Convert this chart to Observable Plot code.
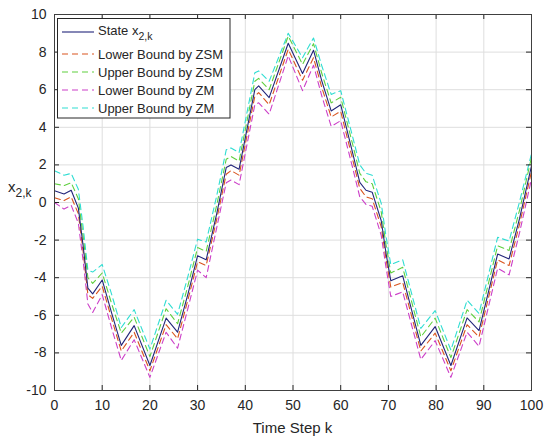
<!DOCTYPE html>
<html>
<head>
<meta charset="utf-8">
<script src="https://cdn.jsdelivr.net/npm/d3@7"></script>
<script src="https://cdn.jsdelivr.net/npm/@observablehq/plot@0.6"></script>
<style>
  html, body { margin: 0; padding: 0; background: white; }
  #chart { position: relative; width: 550px; height: 443px; }
</style>
</head>
<body>
<div id="chart"></div>
<script>
const steps = [0,2,3.5,5,6,7,8,10,12,14,16.7,20,23.4,25.8,28,30,31.8,34,36,37,38.7,42,42.8,45,49,52,54.3,56,58,60,62.5,64,65.3,66.6,68.5,69.5,70.5,73,76.8,79.8,83.1,86.5,89,92.9,95.3,97.5,100];
const stateX2 = [0.62,0.45,0.65,-0.3,-2.3,-4.55,-4.86,-4.12,-5.9,-7.6,-6.55,-8.67,-6.15,-6.9,-4.85,-2.83,-3.05,-0.6,1.86,2.0,1.77,6.0,6.2,5.58,8.47,6.86,8.1,6.5,4.87,5.2,2.64,1.07,0.65,0.55,-0.97,-2.7,-4.16,-3.9,-7.6,-6.6,-8.67,-6.14,-6.81,-2.74,-3.0,-0.85,1.95];
const lowerZSM = [0.25,0.1,0.3,-0.6,-2.6,-4.9,-5.1,-4.45,-6.2,-7.9,-6.9,-8.95,-6.5,-7.25,-5.15,-3.15,-3.35,-0.9,1.5,1.7,1.45,5.65,5.85,5.2,8.15,6.5,7.7,6.15,4.55,4.85,2.3,0.75,0.3,0.2,-1.3,-3.0,-4.5,-4.25,-7.9,-6.95,-8.95,-6.5,-7.15,-3.05,-3.35,-1.15,1.65];
const upperZSM = [1.0,0.9,1.05,0.2,-1.8,-4.0,-4.3,-3.75,-5.4,-6.95,-6.1,-8.2,-5.65,-6.45,-4.4,-2.4,-2.6,-0.15,2.3,2.45,2.2,6.45,6.6,6.0,8.85,7.35,8.45,6.9,5.3,5.6,3.1,1.55,1.1,1.0,-0.5,-2.25,-3.75,-3.45,-7.15,-6.15,-8.25,-5.7,-6.35,-2.3,-2.55,-0.4,2.4];
const lowerZM = [0.0,-0.35,-0.15,-1.1,-3.1,-5.4,-5.85,-4.9,-6.7,-8.4,-7.3,-9.3,-6.9,-7.75,-5.6,-3.6,-4.0,-1.35,1.05,1.2,0.95,5.2,5.3,4.7,7.8,5.95,7.3,5.7,4.05,4.35,1.85,0.3,-0.1,-0.2,-1.75,-3.45,-5.0,-4.75,-8.35,-7.35,-9.3,-6.9,-7.65,-3.5,-3.85,-1.6,1.25];
const upperZM = [1.69,1.45,1.55,0.7,-1.3,-3.6,-3.7,-3.3,-4.9,-6.65,-5.7,-7.8,-5.2,-5.95,-3.9,-1.95,-2.1,0.35,2.8,2.9,2.65,6.9,7.0,6.45,9.0,7.7,8.75,7.3,5.75,5.95,3.5,2.0,1.55,1.45,-0.05,-1.8,-3.3,-3.05,-6.7,-5.75,-7.85,-5.2,-5.9,-1.85,-2.05,0.05,2.6];

const xTicks = [0,10,20,30,40,50,60,70,80,90,100];
const yTicks = [-10,-8,-6,-4,-2,0,2,4,6,8,10];

const seriesNames = ["State", "Lower Bound by ZSM", "Upper Bound by ZSM", "Lower Bound by ZM", "Upper Bound by ZM"];
const seriesValues = [stateX2, lowerZSM, upperZSM, lowerZM, upperZM];
const seriesColors = ["#22257a", "#d9541e", "#5fcf3e", "#cc3fc8", "#2fddd2"];
const seriesDash = [null, "6,4", "6,4", "6,4", "6,4"];

const W = 550, H = 443;
const mL = 54, mR = 19, mT = 14, mB = 53;
const innerW = W - mL - mR, innerH = H - mT - mB;
const tickLen = 5;

const lineMarks = seriesValues.map((vals, i) => {
  const rows = steps.map((k, j) => ({k, v: vals[j]}));
  return Plot.line(rows, {x: "k", y: "v", stroke: seriesColors[i], strokeWidth: 1.1, strokeDasharray: seriesDash[i]});
}).reverse();

const fmt = d => String(d);

const chart = Plot.plot({
  width: W, height: H,
  marginLeft: mL, marginRight: mR, marginTop: mT, marginBottom: mB,
  x: {domain: [0, 100], ticks: xTicks},
  y: {domain: [-10, 10], ticks: yTicks},
  style: {fontFamily: "'Liberation Sans', Arial, sans-serif", fontSize: "14px", color: "#262626", background: "white"},
  marks: [
    Plot.gridX(xTicks, {stroke: "#dedede", strokeOpacity: 1}),
    Plot.gridY(yTicks, {stroke: "#dedede", strokeOpacity: 1}),
    ...lineMarks,
    Plot.tickX(xTicks, {x: d => d, stroke: "#262626", insetTop: innerH - tickLen}),
    Plot.tickX(xTicks, {x: d => d, stroke: "#262626", insetBottom: innerH - tickLen}),
    Plot.tickY(yTicks, {y: d => d, stroke: "#262626", insetRight: innerW - tickLen}),
    Plot.tickY(yTicks, {y: d => d, stroke: "#262626", insetLeft: innerW - tickLen}),
    Plot.frame({stroke: "#404040"}),
    Plot.axisX(xTicks, {anchor: "bottom", tickSize: 0, tickPadding: 10, label: null, fontSize: 14, fill: "#262626", tickFormat: fmt}),
    Plot.axisY(yTicks, {anchor: "left", tickSize: 0, tickPadding: 8, label: null, fontSize: 14, fill: "#262626", tickFormat: fmt})
  ]
});

document.getElementById("chart").appendChild(chart);
const svg = d3.select(chart);

// x-axis label
svg.append("text")
  .attr("x", mL + innerW / 2).attr("y", 433)
  .attr("text-anchor", "middle")
  .attr("font-size", 15).attr("fill", "#262626")
  .text("Time Step k");

// y-axis label with subscript
const yl = svg.append("text")
  .attr("x", 8).attr("y", 192)
  .attr("text-anchor", "start")
  .attr("font-size", 15).attr("fill", "#262626");
yl.append("tspan").text("x");
yl.append("tspan").attr("dy", 5).attr("font-size", 12).text("2,k");

// legend
const lg = svg.append("g").attr("text-anchor", "start");
lg.append("rect")
  .attr("x", 57.5).attr("y", 18.5).attr("width", 172.5).attr("height", 99.5)
  .attr("fill", "white").attr("stroke", "#262626").attr("stroke-width", 1);
const rowY = [32, 54, 72, 90, 108];
seriesNames.forEach((name, i) => {
  lg.append("line")
    .attr("x1", 62).attr("x2", 94).attr("y1", rowY[i]).attr("y2", rowY[i])
    .attr("stroke", seriesColors[i]).attr("stroke-width", 1.1)
    .attr("stroke-dasharray", seriesDash[i]);
  const t = lg.append("text")
    .attr("x", 98).attr("y", rowY[i] + (i === 0 ? 3 : 4.5))
    .attr("text-anchor", "start")
    .attr("font-size", 13).attr("fill", "#262626");
  t.append("tspan").text(name);
  if (i === 0) {
    t.append("tspan").text(" x");
    t.append("tspan").attr("dy", 5).attr("font-size", 10.5).text("2,k");
  }
});
</script>
</body>
</html>
